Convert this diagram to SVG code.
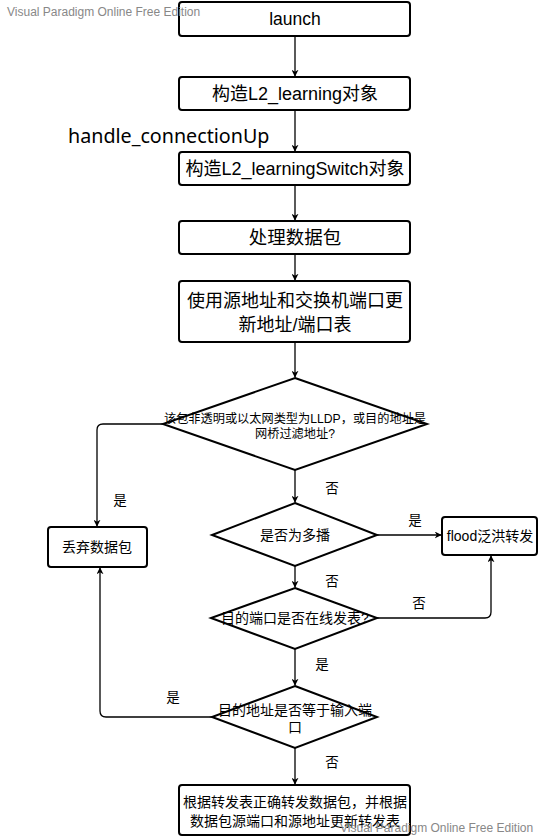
<svg xmlns="http://www.w3.org/2000/svg" width="543" height="837" viewBox="0 0 543 837">
<defs>
<marker id="ah" viewBox="0 0 10 10" refX="9" refY="5" markerWidth="7" markerHeight="7" markerUnits="userSpaceOnUse" orient="auto">
<path d="M0,0 L10,5 L0,10 L3,5 Z" fill="#000"/>
</marker>
</defs>
<style>
.box{fill:#fff;stroke:#000;stroke-width:2}
.dia{fill:#fff;stroke:#000;stroke-width:2}
.t{font-family:"Liberation Sans","Noto Sans CJK SC",sans-serif;fill:#000;text-anchor:middle}
.c{fill:none;stroke:#000;stroke-width:1.3}
.wm{font-family:"Liberation Sans",sans-serif;font-size:12px;fill:#888}
</style>
<rect width="543" height="837" fill="#fff"/>
<g id="connectors">
<path class="c" d="M295,36 V76" marker-end="url(#ah)"/>
<path class="c" d="M295,110 V151" marker-end="url(#ah)"/>
<path class="c" d="M295,185 V220" marker-end="url(#ah)"/>
<path class="c" d="M295,254 V280" marker-end="url(#ah)"/>
<path class="c" d="M295,342 V377" marker-end="url(#ah)"/>
<path class="c" d="M163,424 H103 Q97,424 97,430 V526" marker-end="url(#ah)"/>
<path class="c" d="M295,470 V502" marker-end="url(#ah)"/>
<path class="c" d="M377,535 H441" marker-end="url(#ah)"/>
<path class="c" d="M295,566 V587" marker-end="url(#ah)"/>
<path class="c" d="M377,618 H485 Q491,618 491,612 V556" marker-end="url(#ah)"/>
<path class="c" d="M295,649 V685" marker-end="url(#ah)"/>
<path class="c" d="M212,717 H106 Q100,717 100,711 V568" marker-end="url(#ah)"/>
<path class="c" d="M295,748 V784" marker-end="url(#ah)"/>
</g>
<g id="launch"><rect class="box" x="179" y="2" width="231" height="34" rx="3"/><text class="t" x="295" y="25" font-size="17.5">launch</text></g>
<g id="n2"><rect class="box" x="179" y="77" width="231" height="33" rx="3"/><text class="t" x="295" y="100" font-size="18">构造L2_learning对象</text></g>
<text x="68" y="143" font-family="Noto Sans, sans-serif" font-size="19.7" fill="#000">handle_connectionUp</text>
<g id="n3"><rect class="box" x="179" y="152" width="231" height="33" rx="3"/><text class="t" x="295" y="175" font-size="18">构造L2_learningSwitch对象</text></g>
<g id="n4"><rect class="box" x="179" y="221" width="231" height="33" rx="3"/><text class="t" x="295" y="244" font-size="18.5">处理数据包</text></g>
<g id="n5"><rect class="box" x="179" y="281" width="231" height="61" rx="3"/><text class="t" x="295" y="307" font-size="18">使用源地址和交换机端口更</text><text class="t" x="295" y="331" font-size="18">新地址/端口表</text></g>
<g id="d1"><polygon class="dia" points="295,378 427,424 295,470 163,424"/><text class="t" x="295" y="423" font-size="12.2">该包非透明或以太网类型为LLDP，或目的地址是</text><text class="t" x="295" y="438" font-size="12.2">网桥过滤地址?</text></g>
<g id="drop"><rect class="box" x="48" y="527" width="99" height="40" rx="3"/><text class="t" x="97" y="552" font-size="14">丢弃数据包</text></g>
<g id="d2"><polygon class="dia" points="295,503 377,535 295,566 212,535"/><text class="t" x="295" y="540" font-size="14">是否为多播</text></g>
<g id="flood"><rect class="box" x="442" y="517" width="95" height="38" rx="3"/><text class="t" x="490" y="541" font-size="14">flood泛洪转发</text></g>
<g id="d3"><polygon class="dia" points="295,588 377,618 295,649 211,618"/><text class="t" x="295" y="623" font-size="14">目的端口是否在线发表?</text></g>
<g id="d4"><polygon class="dia" points="295,686 377,717 295,748 212,717"/><text class="t" x="295" y="715" font-size="14">目的地址是否等于输入端</text><text class="t" x="295" y="732" font-size="14">口</text></g>
<g id="final"><rect class="box" x="179" y="785" width="231" height="50" rx="3"/><text class="t" x="295" y="807" font-size="14">根据转发表正确转发数据包，并根据</text><text class="t" x="295" y="826" font-size="14">数据包源端口和源地址更新转发表</text></g>
<g id="labels">
<text class="t" x="332" y="493" font-size="13.5">否</text>
<text class="t" x="120" y="505" font-size="13.5">是</text>
<text class="t" x="415" y="525" font-size="13.5">是</text>
<text class="t" x="332" y="586" font-size="13.5">否</text>
<text class="t" x="419" y="608" font-size="13.5">否</text>
<text class="t" x="322" y="669" font-size="13.5">是</text>
<text class="t" x="173" y="702" font-size="13.5">是</text>
<text class="t" x="332" y="767" font-size="13.5">否</text>
</g>
<text class="wm" x="7" y="16">Visual Paradigm Online Free Edition</text>
<text class="wm" x="340" y="832">Visual Paradigm Online Free Edition</text>
</svg>
